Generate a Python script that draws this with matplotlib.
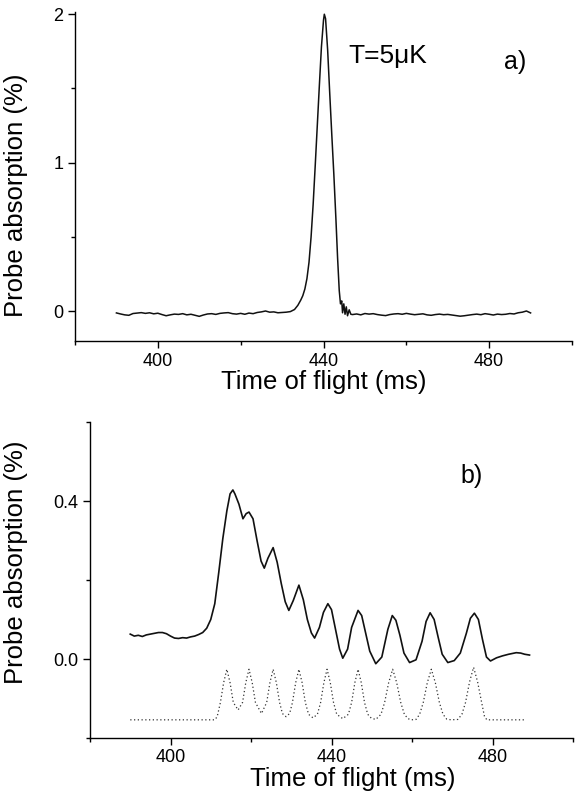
import matplotlib
matplotlib.use("Agg")
import matplotlib.pyplot as plt
from matplotlib.ticker import MultipleLocator

plt.rcParams['font.family'] = ['Liberation Sans', 'DejaVu Sans']

# panel a) : single time-of-flight peak, T = 5 uK
trace_a = [
    (390, -0.011), (391, -0.018), (392, -0.024), (393, -0.027), (394, -0.015),
    (395, -0.012), (396, -0.009), (397, -0.014), (398, -0.010), (399, -0.017),
    (400, -0.013), (401, -0.022), (402, -0.030), (403, -0.024), (404, -0.019),
    (405, -0.021), (406, -0.016), (407, -0.024), (408, -0.020), (409, -0.027),
    (410, -0.034), (411, -0.025), (412, -0.018), (413, -0.016), (414, -0.021),
    (415, -0.014), (416, -0.011), (417, -0.009), (418, -0.016), (419, -0.019),
    (420, -0.014), (421, -0.020), (422, -0.012), (423, -0.016), (424, -0.008),
    (425, -0.004), (426, 0.002), (427, -0.006), (428, -0.004), (429, -0.010),
    (430, -0.008), (431, -0.006), (432, -0.002), (433, 0.012), (433.8, 0.040),
    (434.5, 0.075), (435, 0.105), (435.5, 0.15), (436, 0.22), (436.5, 0.33),
    (437, 0.50), (437.5, 0.72), (438, 0.98), (438.5, 1.25), (439, 1.52),
    (439.5, 1.78), (440, 1.96), (440.2, 2.0), (440.5, 1.97), (441, 1.76),
    (441.5, 1.47), (442, 1.19), (442.5, 0.92), (443, 0.62), (443.4, 0.36),
    (443.8, 0.14), (444.1, 0.05), (444.4, 0.07), (444.6, -0.01), (444.9, 0.05),
    (445.2, -0.02), (445.5, 0.03), (445.8, -0.03), (446.2, 0.01), (446.6, -0.02),
    (447, -0.022), (448, -0.018), (449, -0.024), (450, -0.015), (451, -0.019),
    (452, -0.016), (453, -0.022), (454, -0.026), (455, -0.029), (456, -0.022),
    (457, -0.018), (458, -0.016), (459, -0.020), (460, -0.014), (461, -0.019),
    (462, -0.023), (463, -0.020), (464, -0.017), (465, -0.024), (466, -0.027),
    (467, -0.022), (468, -0.019), (469, -0.023), (470, -0.021), (471, -0.025),
    (472, -0.029), (473, -0.033), (474, -0.030), (475, -0.026), (476, -0.022),
    (477, -0.019), (478, -0.023), (479, -0.016), (480, -0.020), (481, -0.025),
    (482, -0.019), (483, -0.022), (484, -0.020), (485, -0.015), (486, -0.018),
    (487, -0.010), (488, -0.006), (489, 0.002), (490, -0.011),
]

# panel b) : measured signal (solid)
trace_b = [
    (390, 0.063), (391, 0.058), (392, 0.060), (393, 0.057), (394, 0.061),
    (395, 0.063), (396, 0.065), (397, 0.067), (398, 0.067), (399, 0.064),
    (400, 0.058), (401, 0.053), (402, 0.052), (403, 0.054), (404, 0.053),
    (405, 0.056), (406, 0.058), (407, 0.062), (408, 0.067), (409, 0.078),
    (410, 0.100), (411, 0.140), (412, 0.220), (413, 0.305), (414, 0.375),
    (414.8, 0.418), (415.5, 0.428), (416, 0.418), (417, 0.392), (418, 0.355),
    (418.8, 0.368), (419.5, 0.372), (420.5, 0.355), (421.5, 0.300), (422.5, 0.248),
    (423.3, 0.230), (424.2, 0.255), (425.5, 0.282), (426.5, 0.245), (427.5, 0.192),
    (428.5, 0.145), (429.4, 0.123), (430.5, 0.148), (431.9, 0.187), (433, 0.150),
    (434, 0.100), (435, 0.066), (435.8, 0.053), (437, 0.080), (438, 0.118),
    (439.1, 0.140), (440, 0.125), (441, 0.075), (442, 0.025), (442.8, 0.002),
    (444, 0.025), (445, 0.080), (446.6, 0.123), (447.5, 0.110), (448.5, 0.065),
    (449.5, 0.020), (451, -0.012), (452.5, 0.005), (454, 0.075), (455.1, 0.110),
    (456, 0.098), (457, 0.060), (458, 0.015), (459.4, -0.009), (461, -0.002),
    (462.5, 0.045), (463.5, 0.095), (464.5, 0.117), (465.5, 0.100), (466.5, 0.055),
    (467.5, 0.012), (468.9, -0.009), (470.5, -0.004), (472, 0.015), (473.5, 0.065),
    (474.5, 0.103), (475.5, 0.116), (476.5, 0.100), (477.5, 0.050), (478.5, 0.005),
    (479.5, -0.005), (481, 0.003), (482.5, 0.008), (484, 0.012), (485.9, 0.016),
    (487, 0.015), (488, 0.012), (489.2, 0.010),
]

# panel b) : reference pulse train (dotted)
pulses_b = [
    (390, -0.154), (411.0, -0.154), (411.6, -0.146), (412.4, -0.110), (413.2, -0.060),
    (414.0, -0.026), (414.8, -0.060), (415.6, -0.110), (416.8, -0.129),
    (417.9, -0.110), (418.7, -0.060), (419.5, -0.026), (420.3, -0.060), (421.1, -0.110),
    (422.6, -0.138),
    (423.9, -0.110), (424.7, -0.060), (425.5, -0.026), (426.3, -0.060), (427.1, -0.110),
    (427.8, -0.138), (428.7, -0.146),
    (429.6, -0.138), (430.3, -0.110), (431.1, -0.060), (431.9, -0.026), (432.7, -0.060),
    (433.5, -0.110), (434.3, -0.140), (435.4, -0.149),
    (436.5, -0.140), (437.3, -0.110), (438.1, -0.060), (438.9, -0.026), (439.7, -0.060),
    (440.5, -0.110), (441.3, -0.140), (442.8, -0.151),
    (444.2, -0.140), (445.0, -0.110), (445.8, -0.060), (446.6, -0.026), (447.4, -0.060),
    (448.2, -0.110), (449.0, -0.140), (449.9, -0.150), (451.0, -0.153),
    (452.3, -0.140), (453.2, -0.110), (454.2, -0.060), (455.2, -0.026), (456.2, -0.060),
    (457.2, -0.110), (458.1, -0.140), (459.0, -0.151), (459.8, -0.154),
    (461.0, -0.153), (461.9, -0.140), (462.8, -0.110), (463.8, -0.060), (464.8, -0.026),
    (465.8, -0.060), (466.8, -0.110), (467.7, -0.140), (468.6, -0.152), (469.7, -0.154),
    (471.4, -0.153), (472.4, -0.140), (473.3, -0.110), (474.3, -0.058), (475.3, -0.021),
    (476.3, -0.058), (477.3, -0.110), (478.0, -0.145), (478.6, -0.154), (488.3, -0.154),
]

x_major = [400, 440, 480]
ylab = "Probe absorption (%)"
xlab = "Time of flight (ms)"


def style_axes(ax):
    for s in ("top", "right"):
        ax.spines[s].set_visible(False)
    ax.spines["left"].set_linewidth(1.0)
    ax.spines["bottom"].set_linewidth(1.0)
    ax.tick_params(which="major", direction="out", length=5, width=1.0, labelsize=13)
    ax.tick_params(which="minor", direction="out", length=3, width=1.0)
    ax.set_xlim(380, 500)
    ax.set_xticks(x_major)
    ax.xaxis.set_minor_locator(MultipleLocator(20))


fig = plt.figure(figsize=(5.76, 7.98), dpi=100)

# --- panel a ---
ax1 = fig.add_axes([75 / 576, 1 - 341 / 798, 497 / 576, 329 / 798])
style_axes(ax1)
t, v = zip(*trace_a)
ax1.plot(t, v, color="#111111", lw=1.1)
ax1.set_ylim(-0.2, 2.015)
ax1.set_yticks([0, 1, 2])
ax1.set_yticklabels(["0", "1", "2"])
ax1.yaxis.set_minor_locator(MultipleLocator(0.5))
ax1.set_ylabel(ylab, fontsize=18.5)
ax1.yaxis.set_label_coords(-0.095, 0.444)
ax1.set_xlabel(xlab, fontsize=18.5)
ax1.xaxis.set_label_coords(0.501, -0.088)
ax1.text(455.6, 1.72, "T=5\u03bcK", fontsize=19, ha="center", va="center")
ax1.text(486.2, 1.68, "a)", fontsize=18, ha="center", va="center")

# --- panel b ---
ax2 = fig.add_axes([90 / 576, 1 - 738 / 798, 483 / 576, 316 / 798])
style_axes(ax2)
ax2.tick_params(axis="x", which="major", pad=3)
t, v = zip(*trace_b)
ax2.plot(t, v, color="#111111", lw=1.2)
t, v = zip(*pulses_b)
ax2.plot(t, v, color="#333333", lw=0.9, linestyle=(0, (1, 2)))
ax2.set_ylim(-0.2, 0.6)
ax2.set_yticks([0.0, 0.4])
ax2.set_yticklabels(["0.0", "0.4"])
ax2.yaxis.set_minor_locator(MultipleLocator(0.2))
ax2.set_ylabel(ylab, fontsize=18.5)
ax2.yaxis.set_label_coords(-0.129, 0.557)
ax2.set_xlabel(xlab, fontsize=18.5)
ax2.xaxis.set_label_coords(0.545, -0.093)
ax2.text(474.8, 0.464, "b)", fontsize=18, ha="center", va="center")

fig.savefig("out.png", dpi=100)
